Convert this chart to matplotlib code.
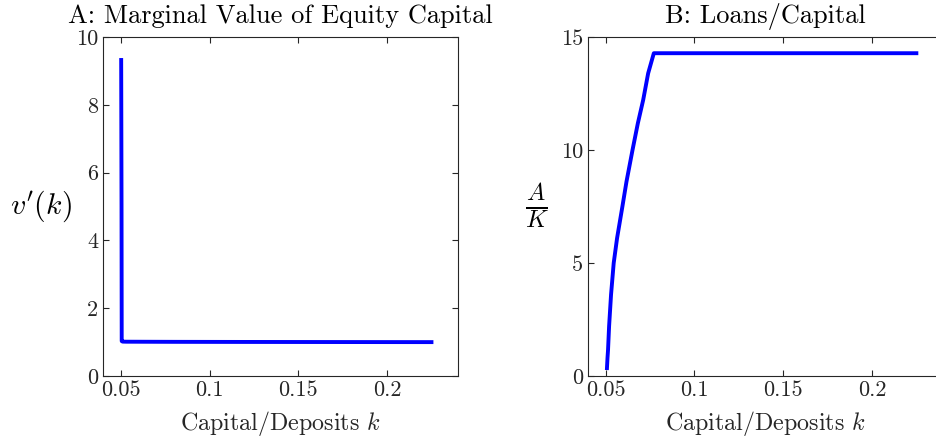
import matplotlib
matplotlib.use("Agg")
import matplotlib.pyplot as plt
from matplotlib.ticker import FuncFormatter

plt.rcParams['font.family'] = 'cmr10'
plt.rcParams['mathtext.fontset'] = 'cm'
plt.rcParams['axes.formatter.use_mathtext'] = True

# panel A: marginal value of equity capital
k_a = [0.0502, 0.0504, 0.0505, 0.0510, 0.0530, 0.08, 0.12, 0.16, 0.20, 0.225]
v_a = [9.32, 5.0, 1.03, 1.015, 1.012, 1.008, 1.005, 1.003, 1.001, 1.0]

# panel B: loans / capital
k_b = [0.0507, 0.0510, 0.0513, 0.0519, 0.0530, 0.0545, 0.0564, 0.0594, 0.0617,
       0.0651, 0.0681, 0.0711, 0.0739, 0.0771, 0.12, 0.18, 0.225]
ak_b = [0.35, 0.8, 1.15, 2.2, 3.6, 5.0, 6.1, 7.5, 8.6,
        10.0, 11.18, 12.21, 13.39, 14.28, 14.28, 14.28, 14.28]

xticks = [0.05, 0.1, 0.15, 0.2]
blue = '#0000ff'
spine = '#262626'

fig = plt.figure(figsize=(9.37, 4.45), dpi=100)
axA = fig.add_axes([0.110, 0.155, 0.3789, 0.762])
axB = fig.add_axes([0.6275, 0.155, 0.3789, 0.762])

fmt = FuncFormatter(lambda v, p: '%g' % v)

for ax in (axA, axB):
    ax.set_xlim(0.04, 0.24)
    ax.set_xticks(xticks)
    ax.xaxis.set_major_formatter(fmt)
    ax.yaxis.set_major_formatter(fmt)
    ax.tick_params(direction='in', top=True, right=True, length=4,
                   width=0.8, color=spine, labelsize=16, labelcolor='#262626')
    for s in ax.spines.values():
        s.set_color(spine)
        s.set_linewidth(0.8)
    ax.set_xlabel('Capital/Deposits $k$', fontsize=17.3, color='#262626', labelpad=6)

axA.plot(k_a, v_a, color=blue, lw=2.8, solid_joinstyle='round')
axA.set_ylim(0, 10)
axA.set_yticks([0, 2, 4, 6, 8, 10])
axA.set_title('A: Marginal Value of Equity Capital', fontsize=19, pad=10)
axA.set_ylabel("$v'(k)$", fontsize=21.5, rotation=0, labelpad=25, va='center')

axB.plot(k_b, ak_b, color=blue, lw=2.8, solid_joinstyle='round')
axB.set_ylim(0, 15)
axB.set_yticks([0, 5, 10, 15])
axB.set_title('B: Loans/Capital', fontsize=19, pad=10)
axB.set_ylabel(r'$\frac{A}{K}$', fontsize=25, rotation=0, labelpad=17, va='center')

fig.savefig('out.png', dpi=100)
